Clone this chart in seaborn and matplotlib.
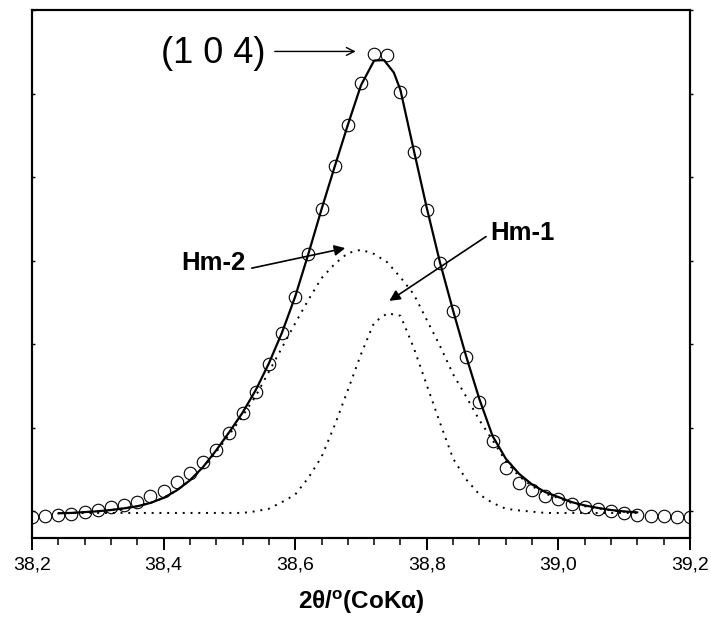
import numpy as np
import pandas as pd
import matplotlib
matplotlib.use("Agg")
import matplotlib.pyplot as plt
import seaborn as sns

# ---- data ----
theta_obs = [38.20, 38.22, 38.24, 38.26, 38.28, 38.30, 38.32, 38.34, 38.36, 38.38,
             38.40, 38.42, 38.44, 38.46, 38.48, 38.50, 38.52, 38.54, 38.56, 38.58,
             38.60, 38.62, 38.64, 38.66, 38.68, 38.70, 38.72, 38.74, 38.76, 38.78,
             38.80, 38.82, 38.84, 38.86, 38.88, 38.90, 38.92, 38.94, 38.96, 38.98,
             39.00, 39.02, 39.04, 39.06, 39.08, 39.10, 39.12, 39.14, 39.16, 39.18, 39.20]
intensity_obs = [0.255, 0.263, 0.275, 0.287, 0.308, 0.335, 0.368, 0.395, 0.428, 0.503,
                 0.566, 0.667, 0.782, 0.910, 1.054, 1.261, 1.493, 1.752, 2.084, 2.459,
                 2.890, 3.401, 3.937, 4.447, 4.946, 5.446, 5.796, 5.784, 5.333, 4.626,
                 3.928, 3.290, 2.722, 2.168, 1.625, 1.165, 0.842, 0.655, 0.575, 0.507,
                 0.463, 0.411, 0.375, 0.344, 0.323, 0.296, 0.279, 0.267, 0.263, 0.248, 0.248]

theta_fit = [38.24, 38.26, 38.28, 38.30, 38.32, 38.34, 38.36, 38.38, 38.40, 38.42,
             38.44, 38.46, 38.48, 38.50, 38.52, 38.54, 38.56, 38.58, 38.60, 38.62,
             38.64, 38.66, 38.68, 38.70, 38.72, 38.735, 38.75, 38.76, 38.78, 38.80,
             38.82, 38.84, 38.86, 38.88, 38.90, 38.92, 38.94, 38.96, 38.98, 39.00,
             39.02, 39.04, 39.06, 39.08, 39.10, 39.12]
intensity_fit = [0.296, 0.300, 0.310, 0.320, 0.335, 0.355, 0.380, 0.420, 0.480, 0.570,
                 0.690, 0.850, 1.050, 1.270, 1.500, 1.770, 2.090, 2.460, 2.890, 3.400,
                 3.935, 4.445, 4.945, 5.420, 5.715, 5.720, 5.570, 5.360, 4.650, 3.950,
                 3.300, 2.720, 2.170, 1.660, 1.220, 0.950, 0.770, 0.640, 0.550, 0.490,
                 0.430, 0.390, 0.360, 0.335, 0.318, 0.307]

theta_comp = [38.24, 38.26, 38.28, 38.30, 38.32, 38.34, 38.36, 38.38, 38.40, 38.42,
              38.44, 38.46, 38.48, 38.50, 38.52, 38.54, 38.56, 38.58, 38.60, 38.62,
              38.64, 38.66, 38.68, 38.70, 38.72, 38.74, 38.76, 38.78, 38.80, 38.82,
              38.84, 38.86, 38.88, 38.90, 38.92, 38.94, 38.96, 38.98, 39.00, 39.02,
              39.04, 39.06, 39.08, 39.10, 39.12]
intensity_hm2 = [0.296, 0.300, 0.310, 0.320, 0.335, 0.355, 0.380, 0.420, 0.480, 0.570,
                 0.690, 0.840, 1.030, 1.240, 1.460, 1.700, 1.990, 2.280, 2.570, 2.850,
                 3.110, 3.280, 3.410, 3.450, 3.400, 3.300, 3.120, 2.920, 2.610, 2.300,
                 1.960, 1.690, 1.410, 1.170, 0.920, 0.740, 0.620, 0.530, 0.480, 0.420,
                 0.380, 0.355, 0.330, 0.315, 0.305]
intensity_hm1 = [0.300, 0.300, 0.300, 0.300, 0.300, 0.300, 0.300, 0.300, 0.300, 0.300,
                 0.300, 0.300, 0.300, 0.300, 0.300, 0.320, 0.350, 0.430, 0.520, 0.720,
                 0.970, 1.350, 1.770, 2.200, 2.580, 2.690, 2.660, 2.280, 1.830, 1.380,
                 0.950, 0.700, 0.520, 0.420, 0.350, 0.330, 0.315, 0.300, 0.300, 0.300,
                 0.300, 0.300, 0.300, 0.300, 0.300]

x_ticks = [38.2, 38.4, 38.6, 38.8, 39.0, 39.2]
x_tick_labels = ["38,2", "38,4", "38,6", "38,8", "39,0", "39,2"]
y_ticks = [0.32, 1.32, 2.32, 3.32, 4.32, 5.32, 6.32]

obs = pd.DataFrame({"theta": theta_obs, "I": intensity_obs})
fit = pd.DataFrame({"theta": theta_fit, "I": intensity_fit})
comp = pd.DataFrame({"theta": theta_comp, "hm1": intensity_hm1, "hm2": intensity_hm2})

# ---- style ----
sns.set_style("ticks")
plt.rcParams["font.family"] = ["Liberation Sans", "DejaVu Sans"]
plt.rcParams["mathtext.fontset"] = "custom"
plt.rcParams["mathtext.rm"] = "Liberation Sans"
plt.rcParams["mathtext.bf"] = "Liberation Sans:bold"
for k in ["text.color", "axes.labelcolor", "xtick.color", "ytick.color", "axes.edgecolor"]:
    plt.rcParams[k] = "black"

fig = plt.figure(figsize=(7.11, 6.24), dpi=100)
ax = fig.add_axes([32 / 711, 1 - 538 / 624, (690 - 32) / 711, (538 - 10) / 624])

dot = (0, (1.0, 3.0))
sns.lineplot(data=comp, x="theta", y="hm2", ax=ax, color="black", lw=1.4,
             linestyle=dot, sort=False)
sns.lineplot(data=comp, x="theta", y="hm1", ax=ax, color="black", lw=1.4,
             linestyle=dot, sort=False)
sns.lineplot(data=fit, x="theta", y="I", ax=ax, color="black", lw=1.6, sort=False)
sns.lineplot(data=obs, x="theta", y="I", ax=ax, color="black", linestyle="",
             marker="o", markersize=9, markerfacecolor="none",
             markeredgecolor="black", markeredgewidth=0.8, sort=False)

ax.set_xlim(38.2, 39.2)
ax.set_ylim(0, 6.32)
ax.set_xticks(x_ticks)
ax.set_xticklabels(x_tick_labels, fontsize=14)
ax.set_xticks(np.round(np.arange(38.2, 39.2001, 0.04), 2), minor=True)
ax.set_yticks(y_ticks)
ax.set_yticklabels([])
ax.tick_params(axis="x", which="major", direction="out", length=8.5, width=1.4,
               pad=5, colors="black")
ax.tick_params(axis="x", which="minor", direction="out", length=5, width=1.1)
ax.tick_params(axis="y", which="major", direction="in", length=2.5, width=1.0)

ax2 = ax.twinx()
ax2.set_ylim(0, 6.32)
ax2.set_yticks(y_ticks)
ax2.set_yticklabels([])
ax2.tick_params(axis="y", direction="out", length=2.5, width=1.0)

for a in (ax, ax2):
    for s in a.spines.values():
        s.set_linewidth(1.5)
        s.set_color("black")

ax.set_ylabel("")
ax.set_xlabel(r"2θ/$^{\mathbf{o}}$(CoKα)", fontsize=17.5, fontweight="bold", labelpad=10)

# ---- annotations ----
ax.text(38.476, 5.80, "(1 0 4)", fontsize=26, ha="center", va="center")
ax.annotate("", xy=(38.692, 5.824), xytext=(38.569, 5.824),
            arrowprops=dict(arrowstyle="->", lw=1.0, color="black",
                            shrinkA=0, shrinkB=0, mutation_scale=14))

ax.text(38.476, 3.29, "Hm-2", fontsize=18.5, fontweight="bold", ha="center", va="center")
ax.annotate("", xy=(38.676, 3.47), xytext=(38.534, 3.23),
            arrowprops=dict(arrowstyle="-|>", lw=1.2, color="black",
                            shrinkA=0, shrinkB=0, mutation_scale=16))

ax.text(38.945, 3.65, "Hm-1", fontsize=18.5, fontweight="bold", ha="center", va="center")
ax.annotate("", xy=(38.743, 2.838), xytext=(38.890, 3.608),
            arrowprops=dict(arrowstyle="-|>", lw=1.2, color="black",
                            shrinkA=0, shrinkB=0, mutation_scale=16))

fig.savefig("out.png", dpi=100)
